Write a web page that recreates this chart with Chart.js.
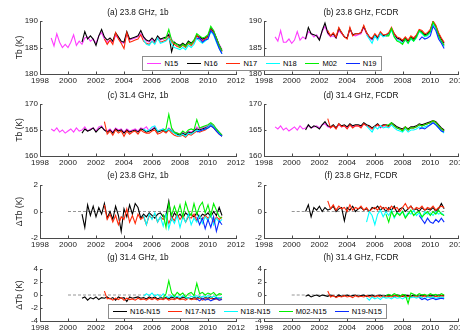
<!DOCTYPE html>
<html lang="en">
<head>
<meta charset="UTF-8">
<title>Tb time series, 23.8 / 31.4 GHz</title>
<script src="https://cdn.jsdelivr.net/npm/chart.js"></script>
<style>
  body {
    margin: 0;
    width: 460px;
    height: 331px;
    overflow: hidden;
    background: #fff;
    position: relative;
    font-family: "Liberation Sans", Arial, sans-serif;
  }
  canvas { position: absolute; }
  .legend {
    position: absolute;
    z-index: 5;
    background: #fff;
    border: 1px solid #8c8c8c;
    box-sizing: border-box;
    display: flex;
    justify-content: space-around;
    align-items: center;
    font-size: 7.5px;
    color: #000;
  }
  .legend .item { display: flex; align-items: center; }
  .legend .line { display: inline-block; width: 14px; height: 1.5px; margin-right: 3px; }
</style>
</head>
<body>
<div id="legendTop" class="legend" style="left:142px; top:56px; width:240px; height:15px;"></div>
<div id="legendBottom" class="legend" style="left:108px; top:304px; width:279px; height:15px;"></div>

<script>
// ---- data: one sample every STEP years from each series start ----
const STEP = 0.2;
const seriesNames = ['N15', 'N16', 'N17', 'N18', 'M02', 'N19'];
const seriesStart = [1998.8, 2001.0, 2002.6, 2005.4, 2006.8, 2009.2];
const diffNames = ['N16-N15', 'N17-N15', 'N18-N15', 'M02-N15', 'N19-N15'];
const diffStart = [2001.0, 2002.6, 2005.4, 2006.8, 2009.2];
const xTicks = [1998, 2000, 2002, 2004, 2006, 2008, 2010, 2012];
const zeroLineYears = [2000, 2011];

// (a) 23.8 GHz, 1b
const a_N15 = [186.8,
  185.3, 187.6, 186.0, 185.0, 185.6,
  185.0, 186.0, 187.4, 185.4, 186.2,
  185.6, 186.8, 187.0, 186.2, 186.6,
  185.8, 187.2, 187.8, 186.6, 186.0,
  186.4, 186.0, 187.2, 186.8, 186.0,
  185.8, 187.6, 186.4, 186.6, 186.8,
  187.0, 187.6, 186.8, 186.2, 186.0,
  186.6, 186.0, 187.0, 186.4, 186.6,
  186.8, 187.6, 186.6, 185.8, 185.6,
  185.2, 185.6, 185.2, 186.0, 185.6,
  186.2, 187.0, 186.8, 186.4, 186.6,
  187.0, 188.4, 188.2, 186.8, 185.6,
  184.6];
const a_N16 = [
  186.0, 188.0, 186.6, 187.2, 186.6,
  185.4, 187.2, 188.4, 187.0, 186.4,
  186.8, 186.2, 187.8, 187.0, 186.2,
  186.0, 188.0, 186.6, 186.8, 187.0,
  187.2, 188.2, 187.0, 186.4, 186.2,
  186.8, 186.2, 187.2, 186.6, 186.8,
  187.0, 187.4, 184.2, 186.0, 185.6,
  185.4, 185.8, 185.4, 186.2, 185.8,
  186.4, 187.2, 187.0, 186.6, 186.8,
  187.2, 188.6, 188.0, 186.8, 185.4,
  184.4];
const a_N17 = [186.6, 185.6,
  186.4, 185.6, 187.8, 186.6, 185.8,
  184.8, 187.8, 186.0, 186.2, 186.4,
  186.6, 187.4, 186.2, 185.8, 185.6,
  186.2, 185.8, 186.8, 186.0, 186.2,
  186.4, 187.0, 186.0, 185.6, 185.2,
  185.0, 185.4, 185.0, 185.8, 185.4,
  186.0, 187.4, 186.6, 186.2, 186.6,
  187.0, 188.4, 187.8, 186.6, 185.2,
  184.2];
const a_N18 = [186.4, 185.6, 185.4,
  186.2, 185.6, 186.8, 185.8, 186.0,
  186.2, 186.8, 185.6, 185.0, 184.8,
  184.6, 185.0, 184.6, 185.4, 185.0,
  185.6, 186.8, 186.2, 185.8, 186.2,
  186.6, 188.0, 187.4, 186.0, 184.8,
  183.8];
const a_M02 = [186.6,
  186.8, 188.4, 186.4, 185.8, 185.6,
  185.0, 185.6, 185.2, 186.0, 185.6,
  186.4, 187.6, 187.2, 186.8, 187.0,
  187.4, 189.0, 188.2, 186.8, 185.4,
  184.4];
const a_N19 = [186.6, 186.8, 186.0, 186.4,
  186.6, 188.2, 187.6, 186.2, 184.8,
  183.8];

// (b) 23.8 GHz, FCDR
const b_N15 = [187.0,
  186.2, 188.2, 186.0, 186.0, 186.6,
  185.8, 186.4, 188.0, 186.4, 187.0,
  186.6, 188.0, 187.6, 187.0, 187.4,
  186.6, 188.0, 189.0, 187.6, 187.0,
  187.2, 186.8, 188.2, 187.6, 187.0,
  186.8, 188.4, 187.4, 187.2, 187.4,
  187.6, 188.8, 187.6, 186.8, 186.4,
  187.2, 186.6, 187.6, 187.2, 187.2,
  187.4, 188.4, 187.4, 186.6, 186.4,
  186.0, 186.4, 186.0, 186.8, 186.4,
  187.0, 188.0, 187.8, 187.2, 187.4,
  188.0, 189.6, 189.0, 187.4, 186.4,
  185.4];
const b_N16 = [
  186.6, 188.8, 187.6, 187.4, 187.2,
  186.4, 188.2, 189.6, 187.8, 187.2,
  187.6, 186.8, 188.6, 187.8, 187.0,
  186.8, 188.6, 187.4, 187.6, 187.6,
  187.8, 189.0, 187.8, 187.0, 186.6,
  187.4, 186.8, 187.8, 187.2, 187.4,
  187.6, 188.6, 187.6, 186.8, 186.6,
  186.2, 186.8, 186.2, 187.0, 186.6,
  187.2, 188.2, 188.0, 187.4, 187.6,
  188.2, 189.8, 189.0, 187.6, 186.6,
  185.8];
const b_N17 = [188.2, 187.2,
  187.8, 187.0, 188.8, 187.8, 187.0,
  186.6, 188.8, 187.2, 187.6, 187.6,
  187.8, 189.2, 187.8, 187.0, 186.8,
  187.6, 187.0, 188.0, 187.4, 187.4,
  187.8, 188.8, 187.6, 187.0, 186.8,
  186.4, 187.0, 186.4, 187.2, 186.8,
  187.4, 188.4, 188.2, 187.6, 187.8,
  188.4, 190.0, 189.2, 187.8, 186.8,
  186.0];
const b_N18 = [187.4, 186.6, 185.8,
  187.2, 186.4, 187.6, 187.0, 187.2,
  187.4, 188.2, 187.0, 186.4, 186.2,
  185.8, 186.4, 185.8, 186.6, 186.2,
  186.8, 188.0, 187.6, 187.0, 187.2,
  187.8, 189.4, 188.6, 187.0, 186.0,
  185.2];
const b_M02 = [187.2,
  187.2, 188.6, 187.0, 186.2, 186.0,
  185.6, 186.6, 185.8, 186.8, 186.2,
  187.0, 188.2, 187.8, 187.2, 187.4,
  188.0, 189.8, 188.8, 187.2, 186.2,
  185.4];
const b_N19 = [186.4, 187.0, 186.6, 186.8,
  187.2, 189.0, 188.2, 186.6, 185.8,
  184.8];

// (c) 31.4 GHz, 1b
const c_N15 = [165.2,
  164.8, 165.4, 164.6, 165.0, 164.4,
  164.8, 165.2, 164.6, 165.4, 164.8,
  165.0, 165.6, 164.8, 165.2, 165.4,
  164.8, 165.6, 165.8, 165.0, 164.8,
  165.2, 164.6, 165.4, 165.0, 165.2,
  164.6, 165.2, 164.8, 165.0, 165.2,
  164.8, 165.4, 165.2, 165.6, 164.8,
  165.2, 165.6, 164.8, 165.0, 165.2,
  164.8, 165.4, 165.0, 164.6, 164.4,
  164.2, 164.6, 164.2, 164.8, 164.6,
  165.0, 165.6, 165.2, 165.4, 165.6,
  165.8, 166.2, 165.8, 165.2, 164.6,
  164.0];
const c_N16 = [
  164.4, 165.2, 164.8, 165.0, 165.4,
  164.6, 165.2, 165.6, 165.0, 164.6,
  165.0, 164.4, 165.2, 164.8, 165.0,
  164.4, 165.0, 164.6, 164.8, 165.0,
  164.6, 165.2, 165.0, 164.6, 164.8,
  165.0, 165.4, 164.6, 164.8, 165.0,
  164.6, 165.2, 164.8, 164.4, 164.2,
  164.0, 164.4, 164.0, 164.6, 164.4,
  164.8, 165.2, 165.0, 165.2, 165.4,
  165.6, 166.0, 165.6, 165.0, 164.4,
  163.8];
const c_N17 = [166.6, 164.2,
  164.8, 164.0, 165.0, 164.4, 164.8,
  163.8, 164.8, 164.2, 164.6, 164.8,
  164.2, 165.0, 164.6, 164.4, 164.4,
  164.8, 165.0, 164.2, 164.4, 164.8,
  164.4, 165.0, 164.4, 164.0, 163.8,
  163.8, 164.0, 163.6, 164.2, 164.0,
  164.4, 164.8, 164.6, 164.8, 165.0,
  165.4, 165.8, 165.4, 164.8, 164.2,
  163.8];
const c_N18 = [165.2, 164.8, 165.0,
  165.6, 165.8, 164.8, 165.0, 165.2,
  164.8, 165.2, 164.8, 164.4, 164.0,
  163.8, 164.2, 163.8, 164.4, 164.2,
  164.6, 165.0, 164.8, 165.0, 165.2,
  165.6, 166.0, 165.6, 165.0, 164.4,
  163.8];
const c_M02 = [165.0,
  165.2, 168.0, 165.4, 164.6, 164.4,
  164.2, 164.8, 164.4, 165.0, 165.2,
  165.0, 167.0, 165.4, 165.6, 165.8,
  166.0, 166.4, 166.0, 165.2, 164.6,
  164.0];
const c_N19 = [164.6, 164.8, 165.0, 165.2,
  165.4, 165.8, 165.4, 164.8, 164.2,
  163.8];

// (d) 31.4 GHz, FCDR
const d_N15 = [165.6,
  165.2, 165.8, 165.0, 165.4, 164.8,
  165.2, 165.6, 165.0, 165.8, 165.2,
  165.4, 165.8, 165.4, 165.6, 165.8,
  165.4, 166.0, 166.2, 165.6, 165.4,
  165.8, 165.4, 166.0, 165.6, 165.8,
  165.4, 166.0, 165.6, 165.8, 165.8,
  165.6, 166.2, 165.8, 165.6, 165.2,
  165.6, 166.0, 165.4, 165.8, 165.8,
  165.6, 166.2, 165.8, 165.4, 165.2,
  165.0, 165.4, 165.0, 165.4, 165.4,
  165.6, 166.0, 165.8, 166.0, 166.2,
  166.4, 166.8, 166.4, 165.8, 165.2,
  164.8];
const d_N16 = [
  165.0, 166.0, 165.4, 165.8, 165.6,
  165.2, 166.0, 166.6, 165.8, 165.6,
  166.0, 165.4, 166.2, 165.8, 166.0,
  165.6, 166.2, 165.8, 166.0, 166.0,
  165.8, 166.4, 166.0, 165.8, 165.4,
  165.8, 166.2, 165.6, 166.0, 166.0,
  165.8, 166.4, 166.0, 165.6, 165.4,
  165.2, 165.6, 165.2, 165.6, 165.6,
  165.8, 166.2, 166.0, 166.2, 166.4,
  166.6, 166.8, 166.6, 166.0, 165.4,
  165.0];
const d_N17 = [167.2, 165.4,
  165.8, 165.2, 166.2, 165.6, 165.8,
  165.2, 166.0, 165.4, 165.8, 165.8,
  165.4, 166.2, 165.8, 165.6, 165.2,
  165.6, 166.0, 165.6, 165.8, 166.0,
  165.6, 166.2, 165.8, 165.4, 165.2,
  165.0, 165.6, 165.0, 165.4, 165.4,
  165.6, 166.0, 165.8, 166.0, 166.2,
  166.4, 166.8, 166.4, 165.8, 165.2,
  164.8];
const d_N18 = [165.8, 165.2, 164.6,
  165.6, 165.2, 165.8, 165.4, 165.6,
  165.4, 166.0, 165.4, 165.0, 164.8,
  164.6, 165.2, 164.6, 165.0, 165.0,
  165.2, 165.6, 165.4, 165.6, 165.8,
  166.0, 166.4, 166.0, 165.4, 164.8,
  164.4];
const d_M02 = [165.8,
  166.0, 166.4, 165.8, 165.4, 165.2,
  164.8, 165.6, 165.0, 165.4, 165.4,
  165.6, 166.0, 165.8, 166.0, 166.2,
  166.4, 166.8, 166.4, 165.8, 165.2,
  164.8];
const d_N19 = [165.2, 165.4, 165.2, 165.6,
  166.0, 166.4, 166.0, 165.4, 164.8,
  164.6];

// (e) 23.8 GHz, 1b, differences to N15
const e_N16 = [
  -0.2, -1.2, 0.5, -0.3, 0.4,
  -0.4, 0.3, -0.2, 0.6, -0.5,
  0.0, -0.6, 0.4, -0.3, -1.5,
  0.2, -0.4, 0.5, -0.2, 0.6,
  0.3, -0.5, -0.2, -0.4, -0.1,
  -0.3, -0.5, -0.2, -0.1, -0.4,
  -0.3, 0.8, -0.6, -0.1, -0.4,
  -0.2, -0.5, -0.1, -0.3, -0.2,
  -0.4, -0.1, -0.5, -0.2, -0.3,
  -0.1, -0.4, 0.0, -0.3, 0.3,
  -0.3];
const e_N17 = [0.5, -0.6,
  -0.2, -0.8, -0.3, -1.0, -0.4,
  -0.6, 0.2, -0.8, -0.3, -0.9,
  -0.2, -0.6, -0.4, -1.0, -0.3,
  -0.5, -0.2, -0.8, -0.4, -0.6,
  -0.3, -0.9, -0.4, -0.7, -0.2,
  -0.6, -0.3, -0.8, -0.4, -0.5,
  -0.2, -0.7, -0.4, -0.6, -0.3,
  -0.5, -0.3, -0.8, -0.4, -0.6,
  -0.4];
const e_N18 = [-0.3, -1.0, -0.2,
  -0.6, -0.1, -0.8, -0.4, -1.1,
  -0.2, -1.3, -0.5, -0.9, -0.3,
  -1.2, -0.4, -0.8, -0.2, -1.0,
  -0.5, -0.8, -0.3, -0.9, -0.4,
  -0.7, -0.2, -1.0, -0.5, -0.8,
  -0.6];
const e_M02 = [-0.2,
  -1.2, 0.6, -0.3, 0.4, -0.2,
  0.5, -0.4, 0.7, 0.0, -0.3,
  0.6, -0.2, 0.4, 0.7, -0.1,
  0.5, -0.3, 0.6, 0.1, -0.4,
  -0.5];
const e_N19 = [-0.4, -1.0, -0.5, -1.3,
  -0.6, -1.2, -0.4, -1.5, -0.7,
  -1.0];

// (f) 23.8 GHz, FCDR, differences to N15
const f_N16 = [
  0.0, 0.5, -0.4, 0.3, 0.1,
  0.4, 0.0, 0.3, 0.1, 0.2,
  0.4, 0.0, 0.2, 0.3, -0.7,
  0.3, 0.1, 0.4, 0.0, 0.2,
  0.3, 0.1, 0.2, 0.0, 0.3,
  0.2, 0.4, 0.1, 0.3, 0.0,
  0.3, 0.1, 0.4, -0.1, 0.2,
  0.3, 0.0, 0.2, 0.4, 0.1,
  0.2, 0.0, 0.3, 0.1, 0.2,
  0.1, 0.3, 0.0, 0.2, 0.6,
  0.2];
const f_N17 = [0.8, 0.2,
  0.5, 0.1, 0.4, 0.2, 0.3,
  0.0, 0.5, 0.1, 0.3, 0.2,
  0.4, 0.1, 0.3, 0.0, 0.2,
  0.3, 0.1, 0.4, 0.2, 0.3,
  0.1, 0.4, 0.2, 0.3, 0.0,
  0.3, 0.6, 0.2, 0.4, 0.1,
  0.3, 0.2, 0.4, 0.1, 0.3,
  0.2, 0.4, 0.1, 0.3, 0.4,
  0.3];
const f_N18 = [-0.8, 0.0, -0.3,
  -1.0, -0.2, 0.1, -0.4, 0.0,
  -0.3, 0.1, -0.5, -0.1, -0.2,
  0.0, -0.4, -0.1, -0.2, 0.1,
  -0.3, -0.1, -0.5, 0.0, -0.2,
  -0.1, -0.3, 0.0, -0.2, -0.1,
  -0.3];
const f_M02 = [-0.2,
  -0.8, 0.0, -0.4, -0.1, -0.3,
  0.0, -0.5, -0.2, 0.1, -0.3,
  -0.1, 0.0, -0.4, -0.2, 0.0,
  -0.3, 0.0, -0.2, 0.1, -0.2,
  -0.3];
const f_N19 = [-0.3, -0.6, -0.9, -0.5,
  -0.8, -0.9, -0.6, -0.8, -0.5,
  -0.8];

// (g) 31.4 GHz, 1b, differences to N15
const g_N16 = [
  -0.5, -0.3, -0.8, -0.4, -0.6,
  -0.3, -0.7, -0.4, -0.5, -0.3,
  -0.6, -0.4, -0.8, -0.3, -0.5,
  -0.4, -1.0, -0.3, -0.5, -0.4,
  -0.3, -0.5, -0.4, -0.6, -0.3,
  -0.5, -0.3, -0.6, -0.4, -0.5,
  -0.4, -0.6, -0.3, -0.5, -0.4,
  -0.6, -0.3, -0.5, -0.4, -0.6,
  -0.4, -0.5, -0.3, -0.6, -0.4,
  -0.5, -0.3, -0.6, -0.4, -0.5,
  -0.4];
const g_N17 = [0.6, -0.6,
  -0.5, -0.8, -0.5, -0.7, -0.4,
  -0.8, -0.5, -0.7, -0.6, -0.8,
  -0.5, -0.7, -0.6, -0.8, -0.5,
  -0.7, -0.5, -0.8, -0.6, -0.7,
  -0.5, -0.8, -0.6, -0.7, -0.5,
  -0.7, -0.6, -0.8, -0.5, -0.7,
  -0.6, -0.7, -0.5, -0.8, -0.6,
  -0.7, -0.5, -0.7, -0.6, -0.8,
  -0.6];
const g_N18 = [-0.2, 0.2, -0.1,
  0.3, -0.2, 0.1, -0.3, 0.2,
  -0.2, -0.4, -0.1, -0.3, -0.2,
  -0.4, -0.1, -0.3, -0.5, -0.2,
  -0.3, -0.1, -0.4, -0.2, -0.3,
  -0.1, -0.4, -0.2, -0.3, -0.5,
  -0.3];
const g_M02 = [-0.4,
  0.2, 2.2, 0.3, -0.2, 0.4,
  0.0, 0.3, -0.3, 0.2, 0.4,
  -0.1, 1.8, 0.2, 0.4, 0.0,
  0.3, 0.1, 0.4, -0.1, 0.2,
  0.1];
const g_N19 = [-0.6, -0.9, -0.5, -0.8,
  -0.6, -0.9, -0.7, -0.5, -0.8,
  -0.7];

// (h) 31.4 GHz, FCDR, differences to N15
const h_N16 = [
  -0.2, 0.0, -0.3, -0.1, 0.0,
  -0.2, 0.0, -0.1, -0.2, 0.0,
  -0.1, -0.3, 0.0, -0.2, -0.1,
  0.0, -0.2, -0.1, 0.0, -0.2,
  -0.1, 0.0, -0.2, -0.1, 0.0,
  -0.2, -0.1, 0.0, -0.2, -0.1,
  0.0, -0.1, -0.2, 0.0, -0.1,
  -0.2, 0.0, -0.1, -0.2, 0.0,
  -0.1, -0.2, 0.0, -0.1, -0.2,
  0.0, -0.1, -0.2, 0.0, -0.1,
  -0.1];
const h_N17 = [0.6, -0.3,
  -0.1, -0.4, -0.2, -0.3, -0.1,
  -0.3, -0.2, -0.4, -0.1, -0.3,
  -0.2, -0.3, -0.1, -0.3, -0.2,
  -0.3, -0.1, -0.3, -0.2, -0.3,
  -0.2, -0.3, -0.1, -0.2, -0.3,
  -0.1, -0.3, -0.2, -0.3, -0.2,
  -0.3, -0.2, -0.3, -0.1, -0.2,
  -0.2, -0.3, -0.2, -0.3, -0.1,
  -0.2];
const h_N18 = [-0.4, -0.8, -0.3,
  -0.6, -0.4, -0.7, -0.3, -0.5,
  -0.4, -0.6, -0.3, -0.5, -0.4,
  -0.6, -0.3, -0.5, -0.4, -0.3,
  -0.5, -0.3, -0.4, -0.6, -0.3,
  -0.4, -0.3, -0.5, -0.4, -0.3,
  -0.4];
const h_M02 = [-0.1,
  0.1, -0.1, 0.2, 0.0, -0.2,
  0.1, 0.0, -1.3, 0.3, 0.1,
  -0.1, 0.2, 0.0, 0.1, -0.1,
  0.2, 0.0, 0.1, -0.1, 0.2,
  0.0];
const h_N19 = [-0.4, -0.7, -0.5, -0.8,
  -0.6, -0.5, -0.7, -0.6, -0.5,
  -0.6];

// ---- styling / layout ----
const seriesColors = ['#ff3cff', '#000000', '#ff2a0a', '#00ffff', '#00f000', '#0a2aff'];
const diffColors = seriesColors.slice(1);
const FONT = '"Liberation Sans", Arial, sans-serif';
const AXIS = '#4a4a4a';

// plot area rows (page px) and columns
const rows = [
  { top: 21, bottom: 74, titleOff: 8 },
  { top: 104, bottom: 156, titleOff: 8 },
  { top: 185, bottom: 238, titleOff: 9 },
  { top: 269, bottom: 321, titleOff: 11 }
];
const cols = [
  { canvasLeft: 0, width: 248, axisW: 40, yTitle: true },
  { canvasLeft: 230, width: 240, axisW: 34, yTitle: false }
];
const PAD_TOP = 20, X_AXIS_H = 16, PAD_RIGHT = 12;

const panels = [
  { title: '(a) 23.8 GHz, 1b',   row: 0, col: 0, data: [a_N15, a_N16, a_N17, a_N18, a_M02, a_N19], diff: false, yMin: 180, yMax: 190, yStep: 5, yLabel: 'Tb (K)' },
  { title: '(b) 23.8 GHz, FCDR', row: 0, col: 1, data: [b_N15, b_N16, b_N17, b_N18, b_M02, b_N19], diff: false, yMin: 180, yMax: 190, yStep: 5, yLabel: 'Tb (K)' },
  { title: '(c) 31.4 GHz, 1b',   row: 1, col: 0, data: [c_N15, c_N16, c_N17, c_N18, c_M02, c_N19], diff: false, yMin: 160, yMax: 170, yStep: 5, yLabel: 'Tb (K)' },
  { title: '(d) 31.4 GHz, FCDR', row: 1, col: 1, data: [d_N15, d_N16, d_N17, d_N18, d_M02, d_N19], diff: false, yMin: 160, yMax: 170, yStep: 5, yLabel: 'Tb (K)' },
  { title: '(e) 23.8 GHz, 1b',   row: 2, col: 0, data: [e_N16, e_N17, e_N18, e_M02, e_N19], diff: true, yMin: -2, yMax: 2, yStep: 2, yLabel: '\u0394Tb (K)' },
  { title: '(f) 23.8 GHz, FCDR', row: 2, col: 1, data: [f_N16, f_N17, f_N18, f_M02, f_N19], diff: true, yMin: -2, yMax: 2, yStep: 2, yLabel: '\u0394Tb (K)' },
  { title: '(g) 31.4 GHz, 1b',   row: 3, col: 0, data: [g_N16, g_N17, g_N18, g_M02, g_N19], diff: true, yMin: -4, yMax: 4, yStep: 2, yLabel: '\u0394Tb (K)' },
  { title: '(h) 31.4 GHz, FCDR', row: 3, col: 1, data: [h_N16, h_N17, h_N18, h_M02, h_N19], diff: true, yMin: -4, yMax: 4, yStep: 2, yLabel: '\u0394Tb (K)' }
];

function toPoints(vals, start) {
  return vals.map((v, i) => ({ x: +(start + i * STEP).toFixed(2), y: v }));
}

// title above the plot area + MATLAB-style inward tick marks
const panelDecor = {
  id: 'panelDecor',
  afterDraw(chart, args, opts) {
    const { ctx, chartArea, scales } = chart;
    ctx.save();
    ctx.font = '8.3px ' + FONT;
    ctx.fillStyle = '#111';
    ctx.textAlign = 'center';
    ctx.textBaseline = 'middle';
    ctx.fillText(opts.title, (chartArea.left + chartArea.right) / 2, chartArea.top - opts.titleOff);

    ctx.strokeStyle = AXIS;
    ctx.lineWidth = 1;
    ctx.beginPath();
    scales.x.ticks.forEach(t => {
      const px = Math.round(scales.x.getPixelForValue(t.value)) + 0.5;
      ctx.moveTo(px, chartArea.bottom);
      ctx.lineTo(px, chartArea.bottom - 2.5);
    });
    scales.y.ticks.forEach(t => {
      const py = Math.round(scales.y.getPixelForValue(t.value)) + 0.5;
      ctx.moveTo(chartArea.left, py);
      ctx.lineTo(chartArea.left + 2.5, py);
    });
    ctx.stroke();
    ctx.restore();
  }
};

panels.forEach(p => {
  const r = rows[p.row], c = cols[p.col];
  const canvas = document.createElement('canvas');
  const h = PAD_TOP + (r.bottom - r.top) + X_AXIS_H;
  canvas.width = c.width;
  canvas.height = h;
  canvas.style.left = c.canvasLeft + 'px';
  canvas.style.top = (r.top - PAD_TOP) + 'px';
  document.body.appendChild(canvas);

  const names = p.diff ? diffNames : seriesNames;
  const starts = p.diff ? diffStart : seriesStart;
  const colors = p.diff ? diffColors : seriesColors;
  // later satellites on top: lowest order is drawn last
  const datasets = p.data.map((vals, k) => ({
    label: names[k],
    data: toPoints(vals, starts[k]),
    borderColor: colors[k],
    borderWidth: 1.1,
    pointRadius: 0,
    tension: 0,
    fill: false,
    order: p.data.length - k
  }));
  if (p.diff) {
    datasets.push({
      label: 'zero',
      data: zeroLineYears.map(x => ({ x: x, y: 0 })),
      borderColor: '#8a8a8a',
      borderWidth: 0.9,
      borderDash: [3, 2],
      pointRadius: 0,
      order: 100
    });
  }

  new Chart(canvas.getContext('2d'), {
    type: 'line',
    data: { datasets },
    options: {
      responsive: false,
      animation: false,
      events: [],
      layout: { padding: { top: PAD_TOP, right: PAD_RIGHT, left: 0, bottom: 0 } },
      plugins: {
        legend: { display: false },
        tooltip: { enabled: false },
        panelDecor: { title: p.title, titleOff: r.titleOff }
      },
      scales: {
        x: {
          type: 'linear',
          min: 1998,
          max: 2012,
          afterBuildTicks: s => { s.ticks = xTicks.map(v => ({ value: v })); },
          afterFit: s => { s.height = X_AXIS_H; },
          grid: { display: false, drawTicks: false },
          border: { display: true, color: AXIS, width: 1 },
          ticks: {
            callback: v => String(v),
            autoSkip: false,
            maxRotation: 0,
            padding: 2,
            color: '#222',
            font: { family: FONT, size: 8 }
          }
        },
        y: {
          min: p.yMin,
          max: p.yMax,
          afterFit: s => { s.width = c.axisW; },
          grid: { display: false, drawTicks: false },
          border: { display: true, color: AXIS, width: 1 },
          ticks: {
            stepSize: p.yStep,
            callback: v => String(v),
            padding: 2,
            color: '#222',
            font: { family: FONT, size: 8 }
          },
          title: {
            display: c.yTitle,
            text: p.yLabel,
            color: '#222',
            font: { family: FONT, size: 8.5 },
            padding: { top: 15, bottom: 0 }
          }
        }
      }
    },
    plugins: [panelDecor]
  });
});

// legends (HTML, spanning both columns as in the figure)
function buildLegend(id, names, colors) {
  const box = document.getElementById(id);
  names.forEach((n, i) => {
    const item = document.createElement('span');
    item.className = 'item';
    item.innerHTML = '<span class="line" style="background:' + colors[i] + '"></span>' + n;
    box.appendChild(item);
  });
}
buildLegend('legendTop', seriesNames, seriesColors);
buildLegend('legendBottom', diffNames, diffColors);
</script>
</body>
</html>
